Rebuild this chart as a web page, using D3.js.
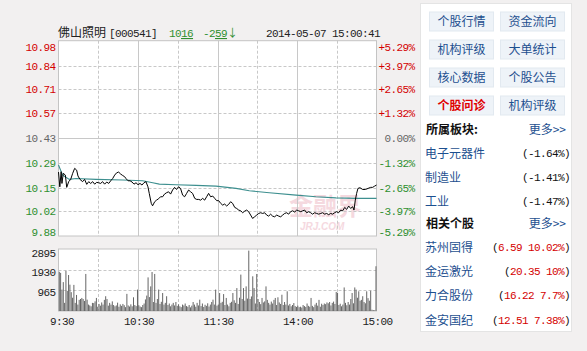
<!DOCTYPE html>
<html>
<head>
<meta charset="utf-8">
<script src="https://cdn.jsdelivr.net/npm/d3@7"></script>
<style>
    body { margin: 0; background: #f2f0f0; }
    svg { display: block; }
    .mono { font-family: "Liberation Mono", "DejaVu Sans Mono", monospace; font-size: 11px; letter-spacing: -0.6px; }
    .cjk { font-family: "Noto Sans CJK SC", sans-serif; letter-spacing: 0; }
</style>
</head>
<body>
<div id="chart"></div>
<script>
'use strict';

// header
const stockName = '佛山照明';
const stockCode = '[000541]';
const lastPrice = '1016';
const volumeNow = '-259';
const stamp = '2014-05-07 15:00:41';

// price axis
const priceTicks = [10.98, 10.84, 10.71, 10.57, 10.43, 10.29, 10.15, 10.02, 9.88];
const pctTicks = ['+5.29%', '+3.97%', '+2.65%', '+1.32%', '0.00%', '-1.32%', '-2.65%', '-3.97%', '-5.29%'];
const prevClose = 10.43;

// time axis (minute index from 9:30, lunch break folded out)
const timeGrid = [0, 30, 60, 90, 120, 150, 180, 210, 240];
const timeLabelAt = [0, 60, 120, 180, 240];
const timeLabels = ['9:30', '10:30', '11:30', '14:00', '15:00'];

// volume axis
const volTicks = [2895, 1930, 965];

// price line (minute, price)
const priceMin = [0, 1, 2, 2.6, 3.6, 5.2, 6.2, 7.7, 9.2, 10.7, 12.2, 13.7, 14.7, 16.2, 18.2, 19.7, 21.3, 22.8, 24.3, 25.8,
    27.3, 28.8, 30.3, 31.8, 33.3, 34.8, 36.4, 37.9, 39.4, 40.9, 42.4, 43.9, 45.4, 46.9, 48.4, 49.9, 51, 52.5, 54, 55.5,
    57, 58.5, 60, 61.5, 63, 64.5, 66, 67.5, 68.5, 70, 71, 72.6, 74, 75.6, 77, 78.6, 80, 81.6, 83.1, 84.6,
    86.1, 87.6, 89.1, 90.6, 92.1, 93.7, 95.2, 96.7, 98.2, 99.7, 101.2, 102.8, 104.3, 105.8, 107.3, 108.8, 110.3, 111.8, 113.3, 114.8,
    116.4, 117.9, 119.4, 120.9, 122.4, 123.9, 125.4, 126.9, 128.4, 129.9, 131.4, 133, 134.5, 136, 137.5, 139, 140.5, 142, 143.5, 145,
    146.5, 148, 149.6, 151.1, 152.6, 154.1, 155.6, 157.1, 158.6, 160.1, 161.6, 163.1, 164.7, 166.2, 167.7, 169.2, 170.7, 172.2, 173.7, 175.2,
    176.7, 178.2, 179.8, 181.3, 182.8, 184.3, 185.8, 187.3, 188.8, 190.3, 191.8, 193.3, 194.8, 196.4, 197.9, 199.4, 200.9, 202.4, 203.9, 205.4,
    206.9, 208.4, 209.9, 211.4, 213, 214.5, 216, 217.5, 219, 220.5, 222, 223, 224, 225, 226, 227.5, 229.6, 231.6, 233.6, 235.6,
    237.1, 238.6, 240];
const priceVal = [10.24, 10.157, 10.242, 10.176, 10.233, 10.223, 10.154, 10.186, 10.199, 10.233, 10.261, 10.251, 10.218, 10.199, 10.186, 10.199, 10.171, 10.186, 10.176, 10.186,
    10.172, 10.182, 10.18, 10.176, 10.186, 10.172, 10.184, 10.176, 10.191, 10.204, 10.223, 10.236, 10.24, 10.229, 10.221, 10.214, 10.203, 10.191, 10.191, 10.184,
    10.172, 10.18, 10.169, 10.176, 10.167, 10.18, 10.186, 10.157, 10.12, 10.064, 10.05, 10.073, 10.082, 10.09, 10.101, 10.101, 10.116, 10.124, 10.129, 10.116,
    10.139, 10.154, 10.142, 10.157, 10.148, 10.11, 10.101, 10.12, 10.139, 10.129, 10.12, 10.092, 10.086, 10.086, 10.082, 10.092, 10.082, 10.101, 10.12, 10.101,
    10.105, 10.092, 10.079, 10.079, 10.064, 10.054, 10.06, 10.049, 10.058, 10.073, 10.064, 10.041, 10.035, 10.026, 10.022, 10.011, 10.02, 10.026, 10.017, 9.998,
    9.979, 9.988, 9.998, 10.007, 10.011, 10.007, 10.011, 9.998, 9.992, 10.003, 9.992, 9.988, 9.998, 9.992, 9.988, 9.998, 10.007, 10.011, 10.003, 10.017,
    10.022, 10.015, 10.026, 10.022, 10.017, 10.022, 10.026, 10.011, 10.017, 10.011, 10.003, 10.011, 10.007, 10.003, 10.007, 10.011, 10.003, 10.007, 10.0, 10.007,
    10.003, 10.011, 10.017, 10.011, 10.026, 10.022, 10.041, 10.03, 10.049, 10.035, 10.045, 10.026, 10.082, 10.12, 10.148, 10.152, 10.142, 10.142, 10.148, 10.154,
    10.154, 10.161, 10.167];

// average price line (minute, price)
const avgMin = [0, 3.1, 8.2, 13.2, 28.3, 48.4, 63.5, 71.1, 76.1, 88.7, 103.8, 118.9, 134, 144, 159.1, 179.3, 194.3, 209.4, 224.5, 240];
const avgVal = [10.28, 10.223, 10.199, 10.204, 10.199, 10.195, 10.191, 10.18, 10.172, 10.169, 10.165, 10.161, 10.148, 10.135, 10.124, 10.11, 10.101, 10.095, 10.092, 10.092];

// per-minute volume, 240 bars
const volume = [
    1830, 1780, 1000, 1350, 380, 1880, 940, 1680, 1230, 880,
    620, 1220, 380, 750, 300, 520, 560, 610, 560, 470,
    1730, 530, 300, 260, 220, 380, 370, 450, 610, 200,
    330, 250, 400, 300, 520, 690, 560, 250, 380, 300,
    450, 280, 220, 260, 390, 200, 310, 240, 330, 270,
    180, 800, 260, 210, 310, 220, 640, 280, 230, 1000,
    270, 210, 180, 280, 350, 540, 720, 1570, 650, 1150,
    1820, 420, 1730, 380, 560, 1000, 330, 430, 840, 300,
    380, 690, 280, 350, 220, 300, 380, 260, 420, 240,
    310, 220, 180, 300, 260, 350, 230, 200, 280, 170,
    250, 420, 300, 200, 380, 260, 530, 230, 350, 190,
    290, 240, 360, 210, 300, 420, 530, 300, 1000, 250,
    300, 840, 380, 430, 790, 280, 610, 300, 220, 380,
    430, 840, 500, 380, 1070, 330, 620, 1700, 560, 1070,
    480, 1150, 580, 2820, 560, 680, 1620, 1070, 350, 1730,
    560, 420, 320, 610, 400, 450, 1150, 520, 380, 300,
    440, 350, 520, 610, 280, 640, 400, 330, 760, 280,
    420, 300, 920, 260, 330, 220, 280, 370, 230, 190,
    250, 180, 200, 160, 280, 230, 190, 350, 240, 200,
    610, 240, 180, 300, 380, 250, 520, 200, 340, 280,
    350, 320, 400, 360, 420, 260, 380, 440, 330, 890,
    850, 280, 340, 220, 300, 1100, 380, 270, 420, 300,
    560, 840, 360, 1100, 1000, 620, 920, 480, 520, 690,
    420, 360, 920, 600, 480, 950, 60, 40, 30, 2090
];

// side panel
const buttons = [['个股行情', '资金流向'], ['机构评级', '大单统计'], ['核心数据', '个股公告'], ['个股问诊', '机构评级']];
const sectors = ['电子元器件', '制造业', '工业'];
const sectorPct = ['-1.64%', '-1.41%', '-1.47%'];
const peers = ['苏州固得', '金运激光', '力合股份', '金安国纪'];
const peerQuote = ['6.59 10.02%', '20.35 10%', '16.22 7.7%', '12.51 7.38%'];

const W = 587, H = 351;
const RED = '#d40000', GREEN = '#2f8f2f', GRAY = '#666666', BLUE = '#1d4f8f';

const svg = d3.select('#chart').append('svg')
    .attr('width', W)
    .attr('height', H)
;

const x = d3.scaleLinear().domain([0, 240]).range([58.5, 376.5]);
const y = d3.scaleLinear().domain([9.88, 10.98]).range([236, 40.7]);
const yv = d3.scaleLinear().domain([0, 2895]).range([311, 249]);

function tickColor(i, mid) {
    if (i < mid) return RED;
    if (i > mid) return GREEN;
    return GRAY;
}

// ---- header
let head = svg.append('text').attr('class', 'mono').attr('y', 37).attr('fill', '#222');
head.append('tspan').attr('x', 58).attr('class', 'cjk').style('font-size', '12px').text(stockName);
head.append('tspan').attr('x', 109).text(stockCode);

let pTxt = svg.append('text').attr('class', 'mono').attr('x', 169).attr('y', 37).attr('fill', GREEN);
pTxt.append('tspan').text(lastPrice.slice(0, 2));
pTxt.append('tspan').style('text-decoration', 'underline').text(lastPrice.slice(2));

let vTxt = svg.append('text').attr('class', 'mono').attr('x', 203).attr('y', 37).attr('fill', GREEN);
vTxt.append('tspan').text(volumeNow.slice(0, 2));
vTxt.append('tspan').style('text-decoration', 'underline').text(volumeNow.slice(2));
vTxt.append('tspan').attr('class', 'cjk').text('↓');

svg.append('text').attr('class', 'mono').attr('x', 266).attr('y', 37).attr('fill', '#222').text(stamp);

// ---- plot backgrounds
svg.append('rect').attr('x', x(0)).attr('y', y(10.98)).attr('width', x(240) - x(0)).attr('height', y(9.88) - y(10.98))
    .attr('fill', '#fff');
svg.append('rect').attr('x', x(0)).attr('y', yv(2895)).attr('width', x(240) - x(0)).attr('height', yv(0) - yv(2895))
    .attr('fill', '#fff');

// watermark
let wm = svg.append('g').attr('opacity', 0.6);
wm.append('text').attr('class', 'cjk').attr('x', 289).attr('y', 215)
    .style('font-size', '24px').style('font-weight', 'bold').attr('fill', '#f0c0cb').text('金融界');
wm.append('text').attr('x', 300).attr('y', 230).style('font-family', 'Arial, sans-serif')
    .style('font-size', '10px').style('font-style', 'italic').style('font-weight', 'bold').attr('fill', '#f0c0cb').text('JRJ.COM');

// ---- grid
function vGrid(top, bottom) {
    svg.append('g').selectAll('line').data(timeGrid.slice(1, -1)).enter()
        .append('line')
        .attr('x1', function (d) { return Math.round(x(d)) + 0.5; })
        .attr('x2', function (d) { return Math.round(x(d)) + 0.5; })
        .attr('y1', top).attr('y2', bottom)
        .attr('stroke', '#c8c8c8')
        .attr('stroke-dasharray', function (d) { return d % 60 === 0 ? null : '3,2'; })
    ;
}

svg.append('g').selectAll('line').data(priceTicks.slice(1, -1)).enter()
    .append('line')
    .attr('x1', x(0)).attr('x2', x(240))
    .attr('y1', function (d) { return Math.round(y(d)) + 0.5; })
    .attr('y2', function (d) { return Math.round(y(d)) + 0.5; })
    .attr('stroke', '#c8c8c8')
    .attr('stroke-dasharray', function (d) { return d === prevClose ? null : '3,2'; })
;
vGrid(y(10.98), y(9.88));

svg.append('g').selectAll('line').data(volTicks.slice(1)).enter()
    .append('line')
    .attr('x1', x(0)).attr('x2', x(240))
    .attr('y1', function (d) { return Math.round(yv(d)) + 0.5; })
    .attr('y2', function (d) { return Math.round(yv(d)) + 0.5; })
    .attr('stroke', '#c8c8c8')
    .attr('stroke-dasharray', '3,2')
;
vGrid(yv(2895), yv(0));

// frames
svg.append('rect').attr('x', x(0)).attr('y', y(10.98)).attr('width', x(240) - x(0)).attr('height', y(9.88) - y(10.98))
    .attr('fill', 'none').attr('stroke', '#c4c4c4');
svg.append('rect').attr('x', x(0)).attr('y', yv(2895)).attr('width', x(240) - x(0)).attr('height', yv(0) - yv(2895))
    .attr('fill', 'none').attr('stroke', '#c4c4c4');

// ---- axis labels
svg.append('g').selectAll('text').data(priceTicks).enter()
    .append('text').attr('class', 'mono')
    .attr('x', 55.5).attr('text-anchor', 'end')
    .attr('y', function (d, i) { return y(d) + (i === 0 ? 10 : (i === 8 ? 0 : 4)); })
    .attr('fill', function (d, i) { return tickColor(i, 4); })
    .text(function (d) { return d.toFixed(2); })
;
svg.append('g').selectAll('text').data(pctTicks).enter()
    .append('text').attr('class', 'mono')
    .attr('x', 414.5).attr('text-anchor', 'end')
    .attr('y', function (d, i) { return y(priceTicks[i]) + (i === 0 ? 10 : (i === 8 ? 0 : 4)); })
    .attr('fill', function (d, i) { return tickColor(i, 4); })
    .text(function (d) { return d; })
;
svg.append('g').selectAll('text').data(volTicks).enter()
    .append('text').attr('class', 'mono')
    .attr('x', 55.5).attr('text-anchor', 'end')
    .attr('y', function (d, i) { return yv(d) + (i === 0 ? 8 : 6); })
    .attr('fill', '#222')
    .text(function (d) { return d; })
;
svg.append('g').selectAll('text').data(timeLabelAt).enter()
    .append('text').attr('class', 'mono')
    .attr('x', function (d, i) { return x(d) + (i === 0 ? 3.5 : 1); })
    .attr('y', 325).attr('text-anchor', 'middle')
    .attr('fill', '#222')
    .text(function (d, i) { return timeLabels[i]; })
;

// ---- volume bars
svg.append('g').selectAll('rect').data(volume).enter()
    .append('rect')
    .attr('x', function (d, i) { return x(i) + 0.3; })
    .attr('y', function (d) { return yv(d); })
    .attr('width', 1)
    .attr('height', function (d) { return yv(0) - yv(d); })
    .attr('fill', '#666')
;

// ---- lines
const avgLine = d3.line()
    .x(function (d) { return x(d[0]); })
    .y(function (d) { return y(d[1]); });

svg.append('path')
    .attr('d', avgLine(d3.zip(avgMin, avgVal)))
    .attr('fill', 'none').attr('stroke', '#3d8f8f').attr('stroke-width', 1.1)
;
svg.append('path')
    .attr('d', avgLine(d3.zip(priceMin, priceVal)))
    .attr('fill', 'none').attr('stroke', '#000').attr('stroke-width', 1)
;

// ---- side panel
let panel = svg.append('g');
panel.append('rect').attr('x', 420.5).attr('y', 3.5).attr('width', 151).attr('height', 328)
    .attr('fill', '#fff').attr('stroke', '#e4e4e4');

buttons.forEach(function (row, r) {
    row.forEach(function (label, c) {
        let bx = 429 + c * 71, by = 11.5 + r * 28;
        panel.append('rect').attr('x', bx + 0.5).attr('y', by + 0.5).attr('width', 64).attr('height', 19)
            .attr('fill', '#eef3f8').attr('stroke', '#e2e9f0');
        panel.append('text').attr('class', 'cjk')
            .attr('x', bx + 32.5).attr('y', by + 14.5).attr('text-anchor', 'middle')
            .style('font-size', '12px')
            .style('font-weight', r === 3 && c === 0 ? 'bold' : 'normal')
            .attr('fill', r === 3 && c === 0 ? '#e00000' : BLUE)
            .text(label)
        ;
    });
});

function sectionHead(label, cy) {
    panel.append('text').attr('class', 'cjk').attr('x', 426).attr('y', cy + 4.5)
        .style('font-size', '12px').style('font-weight', 'bold').attr('fill', '#111').text(label);
    panel.append('text').attr('class', 'cjk').attr('x', 566).attr('y', cy + 4.5).attr('text-anchor', 'end')
        .style('font-size', '12px').attr('fill', BLUE).text('更多>>');
}

sectionHead('所属板块:', 129);
sectors.forEach(function (s, i) {
    let cy = 152.5 + i * 24.3;
    panel.append('text').attr('class', 'cjk').attr('x', 425).attr('y', cy + 5)
        .style('font-size', '12px').attr('fill', BLUE).text(s);
    panel.append('text').attr('class', 'mono').attr('x', 570).attr('y', cy + 4).attr('text-anchor', 'end')
        .attr('fill', '#111').text('(' + sectorPct[i] + ')');
});

sectionHead('相关个股', 223.5);
peers.forEach(function (s, i) {
    let cy = 247 + i * 24.2;
    panel.append('text').attr('class', 'cjk').attr('x', 425).attr('y', cy + 5)
        .style('font-size', '12px').attr('fill', BLUE).text(s);
    let t = panel.append('text').attr('class', 'mono').attr('x', 570).attr('y', cy + 4).attr('text-anchor', 'end')
        .attr('fill', '#111');
    t.append('tspan').text('(');
    t.append('tspan').attr('fill', RED).text(peerQuote[i]);
    t.append('tspan').text(')');
});
</script>
</body>
</html>
